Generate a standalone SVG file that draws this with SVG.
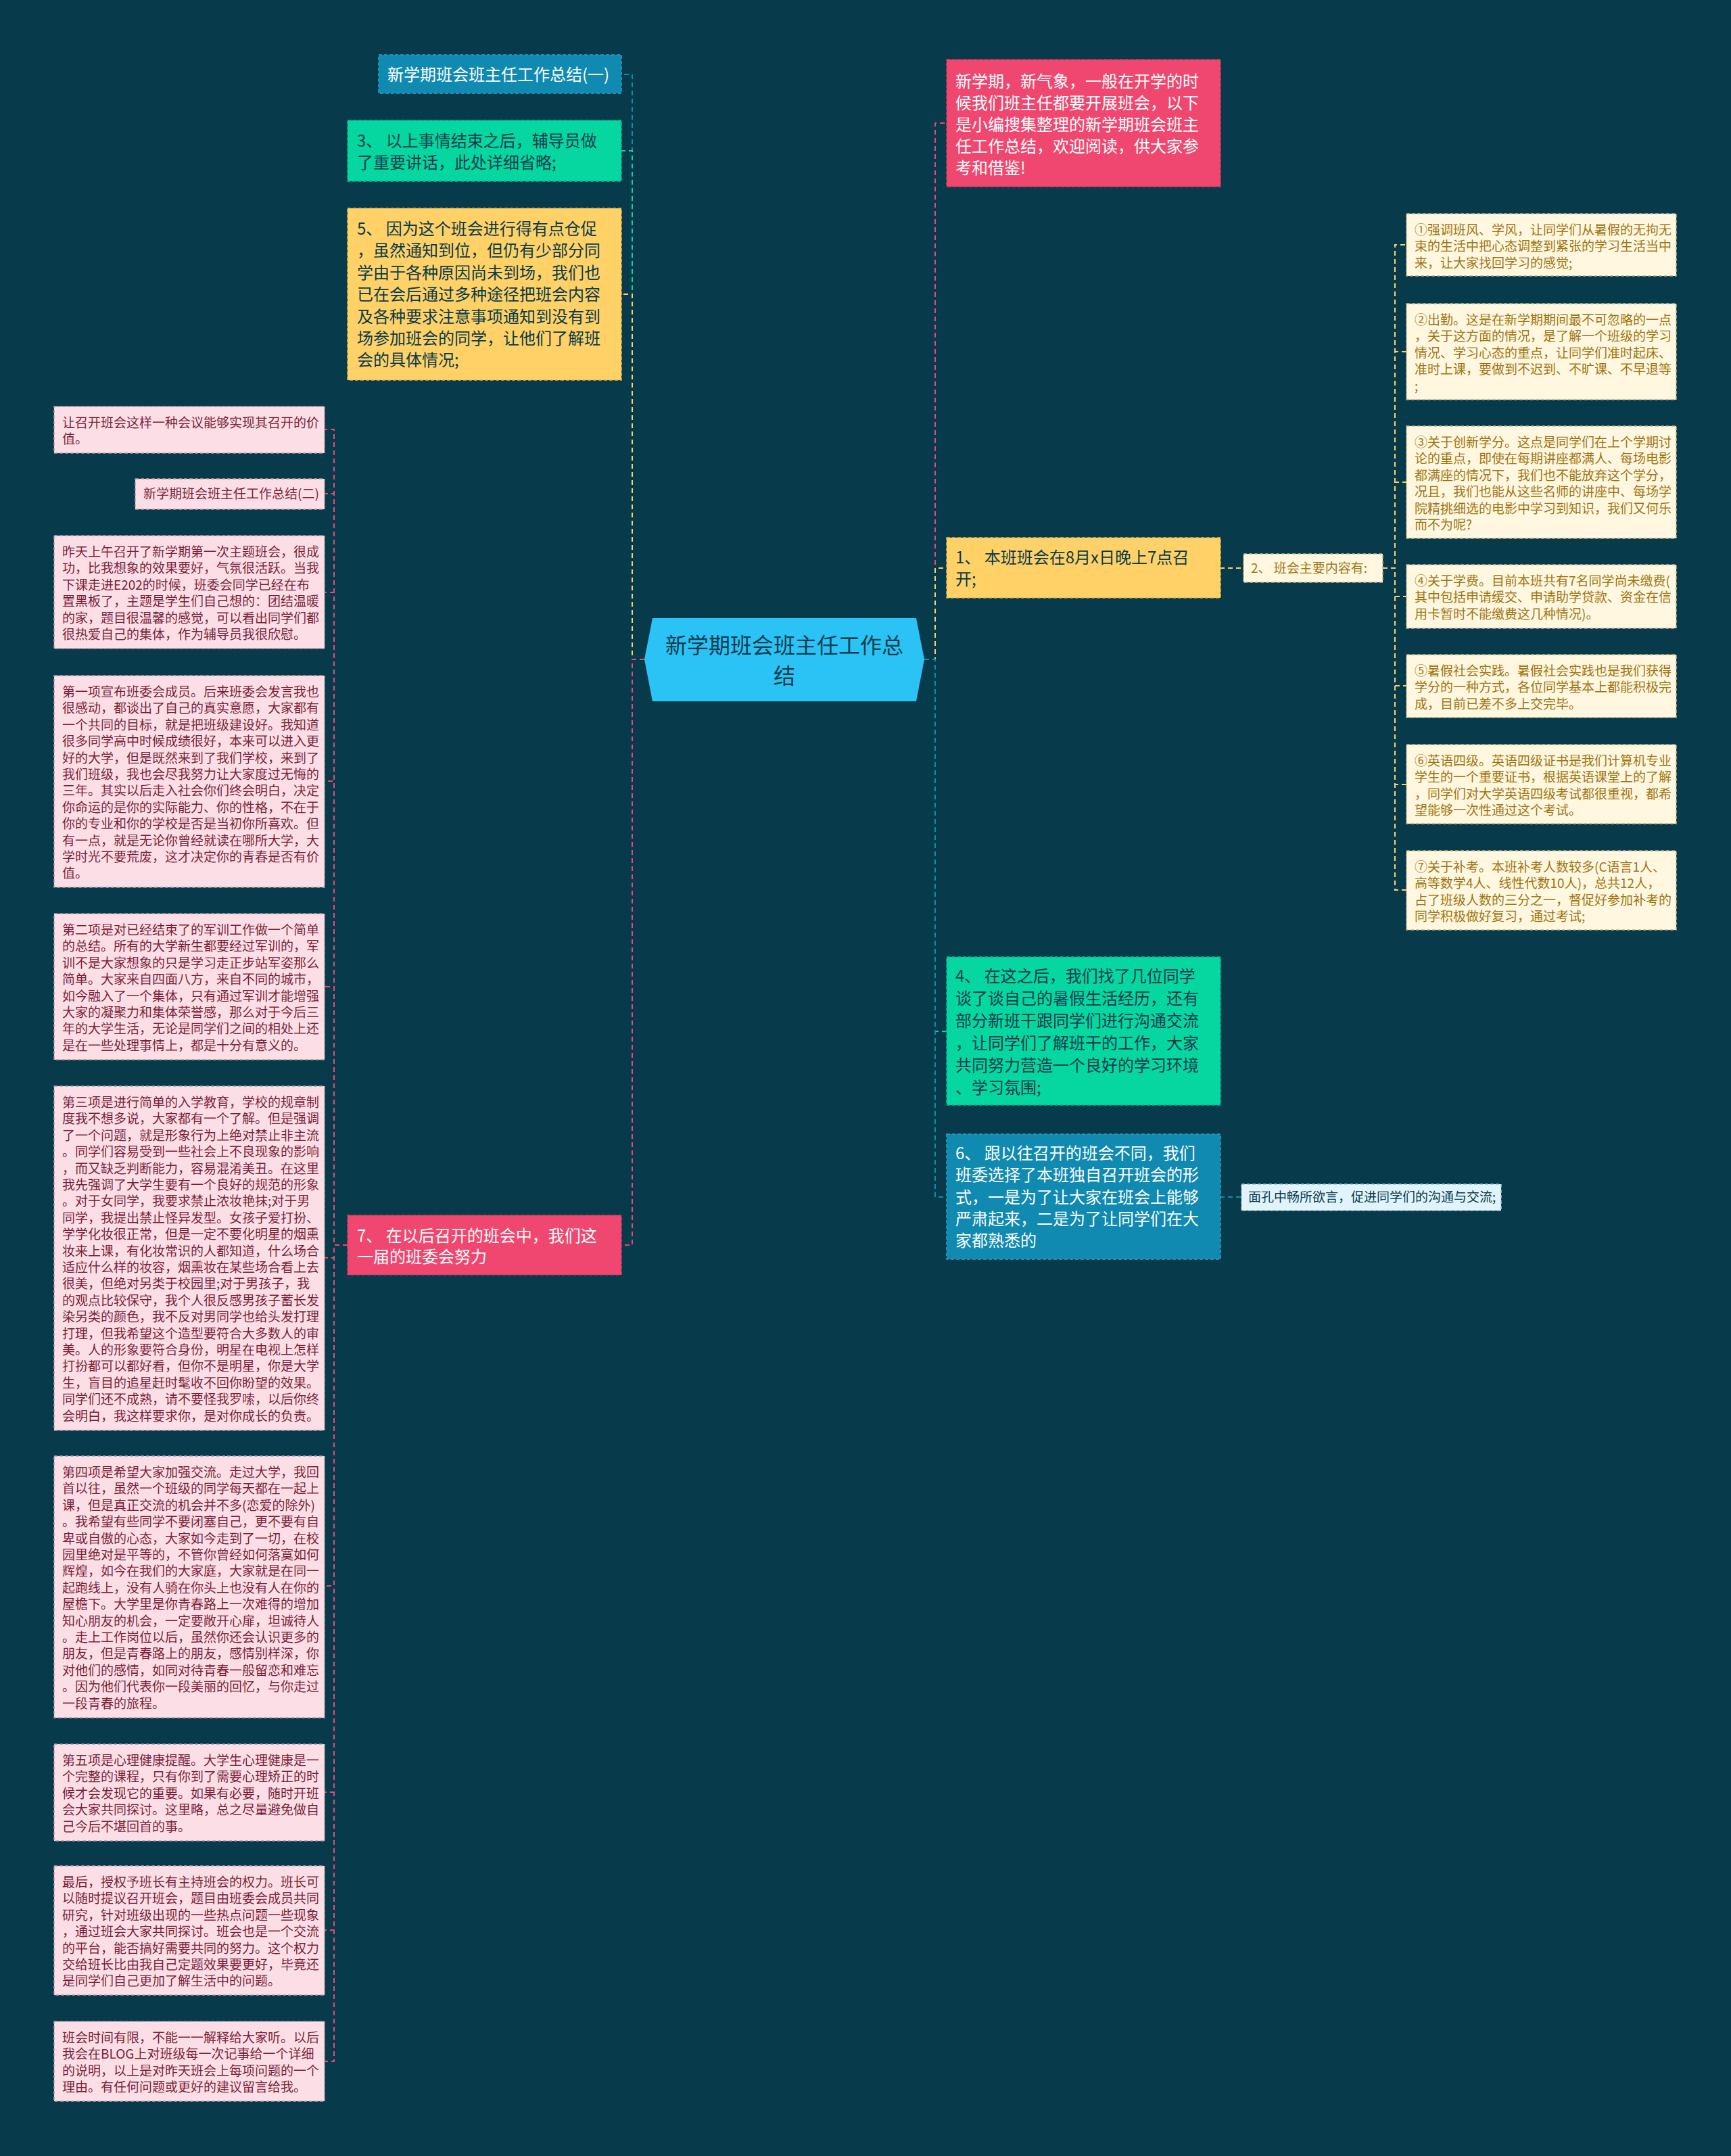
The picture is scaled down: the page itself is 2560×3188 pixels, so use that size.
<svg xmlns="http://www.w3.org/2000/svg" width="2560" height="3188" viewBox="0 0 2560 3188">
<style>
text { font-family: "Noto Sans CJK SC", "Noto Sans", sans-serif; }
.f24 { font-size: 24px; }
.f19 { font-size: 19px; }
.f32 { font-size: 32px; }
.c { fill: none; stroke-width: 2; stroke-dasharray: 7 5; }
.pk { stroke: #ef476f; }
.yl { stroke: #ffd166; }
.tl { stroke: #06d6a0; }
.bl { stroke: #118ab2; }
.n { stroke-width: 1.5; stroke-dasharray: 5 3; }
.npk { fill: #ef476f; stroke: #d63c61; }
.nyl { fill: #ffd166; stroke: #e6b94f; }
.ntl { fill: #06d6a0; stroke: #05b98a; }
.nbl { fill: #118ab2; stroke: #2f9fc4; }
.spk { fill: #fcdfe6; stroke: #b79aa3; }
.syl { fill: #fff7df; stroke: #c4b386; }
.sbl { fill: #e2f4fb; stroke: #9fc3d1; }
.tw { fill: #ffffff; }
.td { fill: #073b4c; }
.tr { fill: #7a1f3a; }
.tg { fill: #9e7514; }
</style>
<rect x="0" y="0" width="2560" height="3188" fill="#073b4c"/>

<g id="connectors">
  <path class="c bl" d="M953 975 H935 V110 H919"/>
  <path class="c tl" d="M953 975 H935 V223 H919"/>
  <path class="c yl" d="M953 975 H935 V435 H919"/>
  <path class="c pk" d="M953 975 H935 V1841 H919"/>
  <path class="c pk" d="M1367 975 H1383 V182 H1400"/>
  <path class="c yl" d="M1367 975 H1383 V840 H1400"/>
  <path class="c tl" d="M1367 975 H1383 V1525 H1400"/>
  <path class="c bl" d="M1367 975 H1383 V1770 H1400"/>
  <path class="c pk" d="M514 1841 H494 V635 H480"/>
  <path class="c pk" d="M514 1841 H494 V730 H480"/>
  <path class="c pk" d="M514 1841 H494 V876 H480"/>
  <path class="c pk" d="M514 1841 H494 V1155 H480"/>
  <path class="c pk" d="M514 1841 H494 V1459 H480"/>
  <path class="c pk" d="M514 1841 H494 V1860 H480"/>
  <path class="c pk" d="M514 1841 H494 V2345 H480"/>
  <path class="c pk" d="M514 1841 H494 V2650 H480"/>
  <path class="c pk" d="M514 1841 H494 V2854 H480"/>
  <path class="c pk" d="M514 1841 H494 V3048 H480"/>
  <path class="c yl" d="M1804 840 H1839"/>
  <path class="c yl" d="M2045 840 H2063 V362 H2080"/>
  <path class="c yl" d="M2045 840 H2063 V520 H2080"/>
  <path class="c yl" d="M2045 840 H2063 V713 H2080"/>
  <path class="c yl" d="M2045 840 H2063 V882 H2080"/>
  <path class="c yl" d="M2045 840 H2063 V1014 H2080"/>
  <path class="c yl" d="M2045 840 H2063 V1160 H2080"/>
  <path class="c yl" d="M2045 840 H2063 V1316 H2080"/>
  <path class="c bl" d="M1804 1770 H1836"/>
</g>

<g id="center">
  <polygon points="965,914 1355,914 1367,975 1355,1037 965,1037 953,975" fill="#2bc3f5"/>
  <text class="f32 td" x="1160" y="966" text-anchor="middle">新学期班会班主任工作总</text>
  <text class="f32 td" x="1160" y="1011" text-anchor="middle">结</text>
</g>

<g id="node-summary1">
  <rect class="n nbl" x="560" y="81" width="359" height="57"/>
  <text class="f24 tw" x="573" y="119">新学期班会班主任工作总结(一)</text>
</g>

<g id="node-3">
  <rect class="n ntl" x="514" y="178" width="405" height="90"/>
  <text class="f24 td" x="528" y="217">3、 以上事情结束之后，辅导员做<tspan x="528" dy="32">了重要讲话，此处详细省略;</tspan></text>
</g>

<g id="node-5">
  <rect class="n nyl" x="514" y="308" width="405" height="254"/>
  <text class="f24 td" x="528" y="347">5、 因为这个班会进行得有点仓促<tspan x="528" dy="32.4">，虽然通知到位，但仍有少部分同</tspan><tspan x="528" dy="32.4">学由于各种原因尚未到场，我们也</tspan><tspan x="528" dy="32.4">已在会后通过多种途径把班会内容</tspan><tspan x="528" dy="32.4">及各种要求注意事项通知到没有到</tspan><tspan x="528" dy="32.4">场参加班会的同学，让他们了解班</tspan><tspan x="528" dy="32.4">会的具体情况;</tspan></text>
</g>

<g id="node-7">
  <rect class="n npk" x="514" y="1797" width="405" height="88"/>
  <text class="f24 tw" x="528" y="1836">7、 在以后召开的班会中，我们这<tspan x="528" dy="31">一届的班委会努力</tspan></text>
</g>

<g id="node-intro">
  <rect class="n npk" x="1400" y="88" width="405" height="188"/>
  <text class="f24 tw" x="1413" y="129">新学期，新气象，一般在开学的时<tspan x="1413" dy="32">候我们班主任都要开展班会，以下</tspan><tspan x="1413" dy="32">是小编搜集整理的新学期班会班主</tspan><tspan x="1413" dy="32">任工作总结，欢迎阅读，供大家参</tspan><tspan x="1413" dy="32">考和借鉴!</tspan></text>
</g>

<g id="node-1">
  <rect class="n nyl" x="1400" y="795" width="405" height="89"/>
  <text class="f24 td" x="1413" y="833">1、 本班班会在8月x日晚上7点召<tspan x="1413" dy="32">开;</tspan></text>
</g>

<g id="node-4">
  <rect class="n ntl" x="1400" y="1415" width="405" height="219"/>
  <text class="f24 td" x="1413" y="1452">4、 在这之后，我们找了几位同学<tspan x="1413" dy="33">谈了谈自己的暑假生活经历，还有</tspan><tspan x="1413" dy="33">部分新班干跟同学们进行沟通交流</tspan><tspan x="1413" dy="33">，让同学们了解班干的工作，大家</tspan><tspan x="1413" dy="33">共同努力营造一个良好的学习环境</tspan><tspan x="1413" dy="33">、学习氛围;</tspan></text>
</g>

<g id="node-6">
  <rect class="n nbl" x="1400" y="1677" width="405" height="185"/>
  <text class="f24 tw" x="1413" y="1714">6、 跟以往召开的班会不同，我们<tspan x="1413" dy="32.3">班委选择了本班独自召开班会的形</tspan><tspan x="1413" dy="32.3">式，一是为了让大家在班会上能够</tspan><tspan x="1413" dy="32.3">严肃起来，二是为了让同学们在大</tspan><tspan x="1413" dy="32.3">家都熟悉的</tspan></text>
</g>

<g id="node-2">
  <rect class="n syl" x="1839" y="819" width="206" height="42"/>
  <text class="f19 tg" x="1850" y="847">2、 班会主要内容有:</text>
</g>

<g id="node-6a">
  <rect class="n sbl" x="1836" y="1751" width="384" height="39"/>
  <text class="f19 td" x="1846" y="1777">面孔中畅所欲言，促进同学们的沟通与交流;</text>
</g>

<g id="node-2-1">
  <rect class="n syl" x="2080" y="316" width="399" height="92"/>
  <text class="f19 tg" x="2092" y="347">①强调班风、学风，让同学们从暑假的无拘无<tspan x="2092" dy="24.4">束的生活中把心态调整到紧张的学习生活当中</tspan><tspan x="2092" dy="24.4">来，让大家找回学习的感觉;</tspan></text>
</g>
<g id="node-2-2">
  <rect class="n syl" x="2080" y="449" width="399" height="142"/>
  <text class="f19 tg" x="2092" y="480">②出勤。这是在新学期期间最不可忽略的一点<tspan x="2092" dy="24.4">，关于这方面的情况，是了解一个班级的学习</tspan><tspan x="2092" dy="24.4">情况、学习心态的重点，让同学们准时起床、</tspan><tspan x="2092" dy="24.4">准时上课，要做到不迟到、不旷课、不早退等</tspan><tspan x="2092" dy="24.4">;</tspan></text>
</g>
<g id="node-2-3">
  <rect class="n syl" x="2080" y="630" width="399" height="166"/>
  <text class="f19 tg" x="2092" y="661">③关于创新学分。这点是同学们在上个学期讨<tspan x="2092" dy="24.4">论的重点，即使在每期讲座都满人、每场电影</tspan><tspan x="2092" dy="24.4">都满座的情况下，我们也不能放弃这个学分，</tspan><tspan x="2092" dy="24.4">况且，我们也能从这些名师的讲座中、每场学</tspan><tspan x="2092" dy="24.4">院精挑细选的电影中学习到知识，我们又何乐</tspan><tspan x="2092" dy="24.4">而不为呢?</tspan></text>
</g>
<g id="node-2-4">
  <rect class="n syl" x="2080" y="835" width="399" height="94"/>
  <text class="f19 tg" x="2092" y="866">④关于学费。目前本班共有7名同学尚未缴费(<tspan x="2092" dy="24.4">其中包括申请缓交、申请助学贷款、资金在信</tspan><tspan x="2092" dy="24.4">用卡暂时不能缴费这几种情况)。</tspan></text>
</g>
<g id="node-2-5">
  <rect class="n syl" x="2080" y="968" width="399" height="93"/>
  <text class="f19 tg" x="2092" y="999">⑤暑假社会实践。暑假社会实践也是我们获得<tspan x="2092" dy="24.4">学分的一种方式，各位同学基本上都能积极完</tspan><tspan x="2092" dy="24.4">成，目前已差不多上交完毕。</tspan></text>
</g>
<g id="node-2-6">
  <rect class="n syl" x="2080" y="1101" width="399" height="117"/>
  <text class="f19 tg" x="2092" y="1132">⑥英语四级。英语四级证书是我们计算机专业<tspan x="2092" dy="24.4">学生的一个重要证书，根据英语课堂上的了解</tspan><tspan x="2092" dy="24.4">，同学们对大学英语四级考试都很重视，都希</tspan><tspan x="2092" dy="24.4">望能够一次性通过这个考试。</tspan></text>
</g>
<g id="node-2-7">
  <rect class="n syl" x="2080" y="1258" width="399" height="117"/>
  <text class="f19 tg" x="2092" y="1289">⑦关于补考。本班补考人数较多(C语言1人、<tspan x="2092" dy="24.4">高等数学4人、线性代数10人)，总共12人，</tspan><tspan x="2092" dy="24.4">占了班级人数的三分之一，督促好参加补考的</tspan><tspan x="2092" dy="24.4">同学积极做好复习，通过考试;</tspan></text>
</g>

<g id="node-7-1">
  <rect class="n spk" x="80" y="601" width="400" height="69"/>
  <text class="f19 tr" x="92" y="632">让召开班会这样一种会议能够实现其召开的价<tspan x="92" dy="24.4">值。</tspan></text>
</g>
<g id="node-7-2">
  <rect class="n spk" x="200" y="708" width="280" height="45"/>
  <text class="f19 tr" x="212" y="737">新学期班会班主任工作总结(二)</text>
</g>
<g id="node-7-3">
  <rect class="n spk" x="80" y="792" width="400" height="167"/>
  <text class="f19 tr" x="92" y="823">昨天上午召开了新学期第一次主题班会，很成<tspan x="92" dy="24.4">功，比我想象的效果要好，气氛很活跃。当我</tspan><tspan x="92" dy="24.4">下课走进E202的时候，班委会同学已经在布</tspan><tspan x="92" dy="24.4">置黑板了，主题是学生们自己想的：团结温暖</tspan><tspan x="92" dy="24.4">的家，题目很温馨的感觉，可以看出同学们都</tspan><tspan x="92" dy="24.4">很热爱自己的集体，作为辅导员我很欣慰。</tspan></text>
</g>
<g id="node-7-4">
  <rect class="n spk" x="80" y="999" width="400" height="313"/>
  <text class="f19 tr" x="92" y="1030">第一项宣布班委会成员。后来班委会发言我也<tspan x="92" dy="24.4">很感动，都谈出了自己的真实意愿，大家都有</tspan><tspan x="92" dy="24.4">一个共同的目标，就是把班级建设好。我知道</tspan><tspan x="92" dy="24.4">很多同学高中时候成绩很好，本来可以进入更</tspan><tspan x="92" dy="24.4">好的大学，但是既然来到了我们学校，来到了</tspan><tspan x="92" dy="24.4">我们班级，我也会尽我努力让大家度过无悔的</tspan><tspan x="92" dy="24.4">三年。其实以后走入社会你们终会明白，决定</tspan><tspan x="92" dy="24.4">你命运的是你的实际能力、你的性格，不在于</tspan><tspan x="92" dy="24.4">你的专业和你的学校是否是当初你所喜欢。但</tspan><tspan x="92" dy="24.4">有一点，就是无论你曾经就读在哪所大学，大</tspan><tspan x="92" dy="24.4">学时光不要荒废，这才决定你的青春是否有价</tspan><tspan x="92" dy="24.4">值。</tspan></text>
</g>
<g id="node-7-5">
  <rect class="n spk" x="80" y="1351" width="400" height="216"/>
  <text class="f19 tr" x="92" y="1382">第二项是对已经结束了的军训工作做一个简单<tspan x="92" dy="24.4">的总结。所有的大学新生都要经过军训的，军</tspan><tspan x="92" dy="24.4">训不是大家想象的只是学习走正步站军姿那么</tspan><tspan x="92" dy="24.4">简单。大家来自四面八方，来自不同的城市，</tspan><tspan x="92" dy="24.4">如今融入了一个集体，只有通过军训才能增强</tspan><tspan x="92" dy="24.4">大家的凝聚力和集体荣誉感，那么对于今后三</tspan><tspan x="92" dy="24.4">年的大学生活，无论是同学们之间的相处上还</tspan><tspan x="92" dy="24.4">是在一些处理事情上，都是十分有意义的。</tspan></text>
</g>
<g id="node-7-6">
  <rect class="n spk" x="80" y="1606" width="400" height="509"/>
  <text class="f19 tr" x="92" y="1637">第三项是进行简单的入学教育，学校的规章制<tspan x="92" dy="24.4">度我不想多说，大家都有一个了解。但是强调</tspan><tspan x="92" dy="24.4">了一个问题，就是形象行为上绝对禁止非主流</tspan><tspan x="92" dy="24.4">。同学们容易受到一些社会上不良现象的影响</tspan><tspan x="92" dy="24.4">，而又缺乏判断能力，容易混淆美丑。在这里</tspan><tspan x="92" dy="24.4">我先强调了大学生要有一个良好的规范的形象</tspan><tspan x="92" dy="24.4">。对于女同学，我要求禁止浓妆艳抹;对于男</tspan><tspan x="92" dy="24.4">同学，我提出禁止怪异发型。女孩子爱打扮、</tspan><tspan x="92" dy="24.4">学学化妆很正常，但是一定不要化明星的烟熏</tspan><tspan x="92" dy="24.4">妆来上课，有化妆常识的人都知道，什么场合</tspan><tspan x="92" dy="24.4">适应什么样的妆容，烟熏妆在某些场合看上去</tspan><tspan x="92" dy="24.4">很美，但绝对另类于校园里;对于男孩子，我</tspan><tspan x="92" dy="24.4">的观点比较保守，我个人很反感男孩子蓄长发</tspan><tspan x="92" dy="24.4">染另类的颜色，我不反对男同学也给头发打理</tspan><tspan x="92" dy="24.4">打理，但我希望这个造型要符合大多数人的审</tspan><tspan x="92" dy="24.4">美。人的形象要符合身份，明星在电视上怎样</tspan><tspan x="92" dy="24.4">打扮都可以都好看，但你不是明星，你是大学</tspan><tspan x="92" dy="24.4">生，盲目的追星赶时髦收不回你盼望的效果。</tspan><tspan x="92" dy="24.4">同学们还不成熟，请不要怪我罗嗦，以后你终</tspan><tspan x="92" dy="24.4">会明白，我这样要求你，是对你成长的负责。</tspan></text>
</g>
<g id="node-7-7">
  <rect class="n spk" x="80" y="2153" width="400" height="387"/>
  <text class="f19 tr" x="92" y="2184">第四项是希望大家加强交流。走过大学，我回<tspan x="92" dy="24.4">首以往，虽然一个班级的同学每天都在一起上</tspan><tspan x="92" dy="24.4">课，但是真正交流的机会并不多(恋爱的除外)</tspan><tspan x="92" dy="24.4">。我希望有些同学不要闭塞自己，更不要有自</tspan><tspan x="92" dy="24.4">卑或自傲的心态，大家如今走到了一切，在校</tspan><tspan x="92" dy="24.4">园里绝对是平等的，不管你曾经如何落寞如何</tspan><tspan x="92" dy="24.4">辉煌，如今在我们的大家庭，大家就是在同一</tspan><tspan x="92" dy="24.4">起跑线上，没有人骑在你头上也没有人在你的</tspan><tspan x="92" dy="24.4">屋檐下。大学里是你青春路上一次难得的增加</tspan><tspan x="92" dy="24.4">知心朋友的机会，一定要敞开心扉，坦诚待人</tspan><tspan x="92" dy="24.4">。走上工作岗位以后，虽然你还会认识更多的</tspan><tspan x="92" dy="24.4">朋友，但是青春路上的朋友，感情别样深，你</tspan><tspan x="92" dy="24.4">对他们的感情，如同对待青春一般留恋和难忘</tspan><tspan x="92" dy="24.4">。因为他们代表你一段美丽的回忆，与你走过</tspan><tspan x="92" dy="24.4">一段青春的旅程。</tspan></text>
</g>
<g id="node-7-8">
  <rect class="n spk" x="80" y="2579" width="400" height="143"/>
  <text class="f19 tr" x="92" y="2610">第五项是心理健康提醒。大学生心理健康是一<tspan x="92" dy="24.4">个完整的课程，只有你到了需要心理矫正的时</tspan><tspan x="92" dy="24.4">候才会发现它的重要。如果有必要，随时开班</tspan><tspan x="92" dy="24.4">会大家共同探讨。这里略，总之尽量避免做自</tspan><tspan x="92" dy="24.4">己今后不堪回首的事。</tspan></text>
</g>
<g id="node-7-9">
  <rect class="n spk" x="80" y="2759" width="400" height="191"/>
  <text class="f19 tr" x="92" y="2790">最后，授权予班长有主持班会的权力。班长可<tspan x="92" dy="24.4">以随时提议召开班会，题目由班委会成员共同</tspan><tspan x="92" dy="24.4">研究，针对班级出现的一些热点问题一些现象</tspan><tspan x="92" dy="24.4">，通过班会大家共同探讨。班会也是一个交流</tspan><tspan x="92" dy="24.4">的平台，能否搞好需要共同的努力。这个权力</tspan><tspan x="92" dy="24.4">交给班长比由我自己定题效果要更好，毕竟还</tspan><tspan x="92" dy="24.4">是同学们自己更加了解生活中的问题。</tspan></text>
</g>
<g id="node-7-10">
  <rect class="n spk" x="80" y="2989" width="400" height="118"/>
  <text class="f19 tr" x="92" y="3020">班会时间有限，不能一一解释给大家听。以后<tspan x="92" dy="24.4">我会在BLOG上对班级每一次记事给一个详细</tspan><tspan x="92" dy="24.4">的说明，以上是对昨天班会上每项问题的一个</tspan><tspan x="92" dy="24.4">理由。有任何问题或更好的建议留言给我。</tspan></text>
</g>
</svg>
